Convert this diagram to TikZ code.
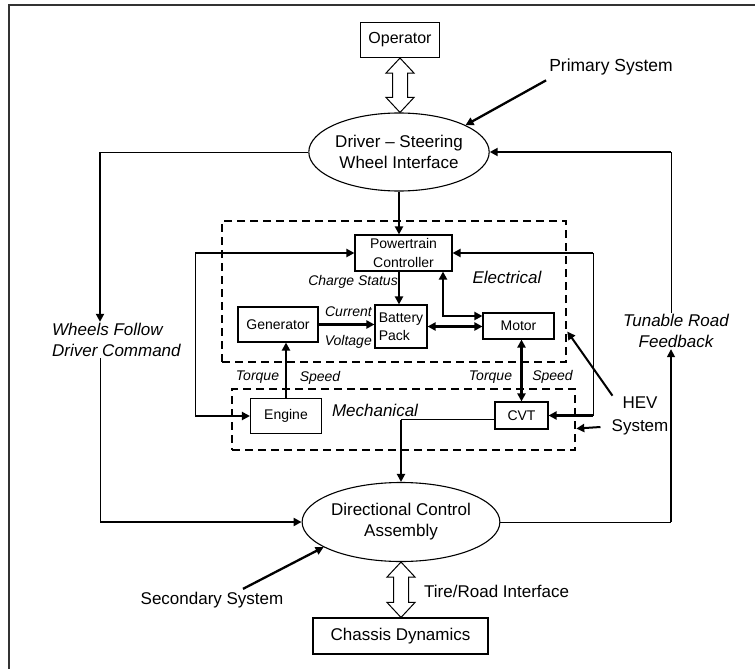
\documentclass[tikz,border=0pt]{standalone}
\usepackage{fontspec}
\setmainfont{Liberation Sans}
\usetikzlibrary{arrows.meta,calc,shapes.geometric}
\begin{document}
\begin{tikzpicture}[x=1pt,y=-1pt,
  box/.style={draw, line width=1.1pt, inner sep=0pt, align=center, font=\fontsize{14}{18.5}\selectfont},
  bigbox/.style={draw, line width=1.1pt, inner sep=0pt, align=center, font=\fontsize{17}{21}\selectfont},
  oval/.style={draw, ellipse, line width=1.1pt, inner sep=0pt, align=center, font=\fontsize{17}{21}\selectfont},
  lab/.style={inner sep=0pt, font=\fontsize{14}{17}\selectfont\itshape},
  biglab/.style={inner sep=1pt, align=center, font=\fontsize{17}{21.5}\selectfont\itshape},
  txt/.style={inner sep=1pt, align=center, font=\fontsize{17}{21}\selectfont},
  thinline/.style={line width=1pt},
  arr/.style={line width=2.3pt, -{Triangle[length=8pt,width=8pt]}},
  darr/.style={line width=2.3pt, {Triangle[length=8pt,width=8pt]}-{Triangle[length=8pt,width=8pt]}},
  hollow/.style={draw, line width=1pt, fill=white, line join=miter},
  dashbox/.style={draw, line width=2.6pt, dash pattern=on 8pt off 5pt, inner sep=0pt},
]
\useasboundingbox (0,0) rectangle (755,669);
% frame
\draw[line width=1.5pt, black!80] (9,669) -- (9,5) -- (755,5);

% dashed groups
\node[dashbox, minimum width=344pt, minimum height=141pt] (elec) at (394,291.5) {};
\node[dashbox, minimum width=343pt, minimum height=61pt] (mech) at (403.5,419.5) {};

% main nodes
\node[bigbox, minimum width=79pt, minimum height=35pt, font=\fontsize{16}{20}\selectfont] (op) at (400,40) {Operator};
\node[oval, minimum width=160pt, minimum height=78pt] (drv) at (399,152) {Driver – Steering\\Wheel Interface};
\node[box, minimum width=97pt, minimum height=36pt] (pc) at (403.5,253) {Powertrain\\Controller};
\node[box, minimum width=52pt, minimum height=43pt, align=left] (bat) at (401,326.5) {Battery\\Pack};
\node[box, minimum width=80pt, minimum height=35pt] (gen) at (278,324.5) {Generator};
\node[box, minimum width=71pt, minimum height=26pt] (mot) at (518.5,326) {Motor};
\node[box, minimum width=71pt, minimum height=35pt] (eng) at (286,416) {Engine};
\node[box, minimum width=53pt, minimum height=27pt] (cvt) at (521.5,415.5) {CVT};
\node[oval, minimum width=158pt, minimum height=79pt] (dca) at (401,522) {Directional Control\\Assembly};
\node[bigbox, minimum width=175pt, minimum height=36pt] (ch) at (400.5,636) {Chassis Dynamics};

% free texts
\node[txt, font=\fontsize{17.5}{21}\selectfont] (prim) at (611,67) {Primary System};
\node[biglab, align=left, anchor=west] (wh) at (51,340) {Wheels Follow\\Driver Command};
\node[biglab] (tun) at (676,331) {Tunable Road\\Feedback};
\node[txt, font=\fontsize{17}{23}\selectfont] (hev) at (640,416) {HEV\\System};
\node[txt] (sec) at (212,600) {Secondary System};
\node[txt, anchor=west] (tire) at (423,591) {Tire/Road Interface};

% labels
\node[lab, anchor=east] (cs) at (398,282) {Charge Status};
\node[lab, anchor=east] (cur) at (372,312) {Current};
\node[lab, anchor=east] (vol) at (372,342) {Voltage};
\node[lab] (tq1) at (257.5,377) {Torque};
\node[lab] (sp1) at (320,378) {Speed};
\node[lab] (tq2) at (490.5,377) {Torque};
\node[lab] (sp2) at (552.5,377) {Speed};
\node[biglab] (el) at (507,277) {Electrical};
\node[biglab] (me) at (375,410) {Mechanical};

% coordinates
\coordinate (lt) at (100,152);
\coordinate (rt) at (671,152);
\coordinate (ll) at (195,252);
\coordinate (rl) at (593,255);
\coordinate (pm) at (443,316);
\coordinate (cv) at ($(cvt.west)+(0,4)$);

% outer loops
\draw[thinline] (drv.west) -- (lt);
\draw[arr] (lt) -- (lt |- wh.north);
\draw[thinline] (lt |- wh.south) -- (lt |- dca.west);
\draw[arr] (lt |- dca.west) -- (dca.west);
\draw[thinline] (dca.east) -- (rt |- dca.east);
\draw[line width=1.6pt, -{Triangle[length=8pt,width=8pt]}] (rt |- dca.east) -- (rt |- tun.south);
\draw[thinline] (rt |- tun.north) -- (rt);
\draw[arr] (rt) -- (drv.east);

% inner connections
\draw[arr] (drv.south) -- (drv.south |- pc.north);
\draw[arr] (drv.south |- pc.south) -- (drv.south |- bat.north);
\draw[arr] (ll |- pc.west) -- (pc.west);
\draw[thinline] (ll |- pc.west) -- (ll |- eng.west);
\draw[arr] (ll |- eng.west) -- (eng.west);
\draw[arr] (rl |- pc.east) -- (pc.east);
\draw[thinline] (rl |- pc.east) -- (rl |- cvt.east);
\draw[arr] (rl |- cvt.east) -- (cvt.east);
\draw[arr] (gen.east) -- (gen.east -| bat.west);
\draw[darr] (bat.east) -- (bat.east -| mot.west);
\draw[darr] (pm |- pc.south) -- (pm) -- (pm -| mot.west);
\draw[arr] (eng.north) -- (eng.north |- gen.south);
\draw[darr] (cvt.north) -- (cvt.north |- mot.south);
\draw[thinline] (cv) -- (cv -| dca.north);
\draw[arr] (cv -| dca.north) -- (dca.north);

% pointer arrows
\draw[arr] ($(prim.south west)+(-2,4)$) -- (drv.22);
\draw[arr] ($(sec.north)+(31,-2)$) -- (dca.198);
\draw[arr, line width=2pt] ($(hev.north west)+(2,0)$) -- (elec.-13.5);
\draw[arr, line width=2pt] ($(hev.west)+(-10,11)$) -- (mech.-3);

% hollow double arrows
\draw[hollow] (op.south) -- ++(14,15) -- ++(-6.5,0) -- ($(op.south |- drv.north)+(7.5,-15)$) -- ++(6.5,0) -- (op.south |- drv.north) -- ++(-14,-15) -- ++(6.5,0) -- ($(op.south)+(-7.5,15)$) -- ++(-6.5,0) -- cycle;
\draw[hollow] (dca.south) -- ++(14,15) -- ++(-6.5,0) -- ($(dca.south |- ch.north)+(7.5,-15)$) -- ++(6.5,0) -- (dca.south |- ch.north) -- ++(-14,-15) -- ++(6.5,0) -- ($(dca.south)+(-7.5,15)$) -- ++(-6.5,0) -- cycle;
\end{tikzpicture}
\end{document}
